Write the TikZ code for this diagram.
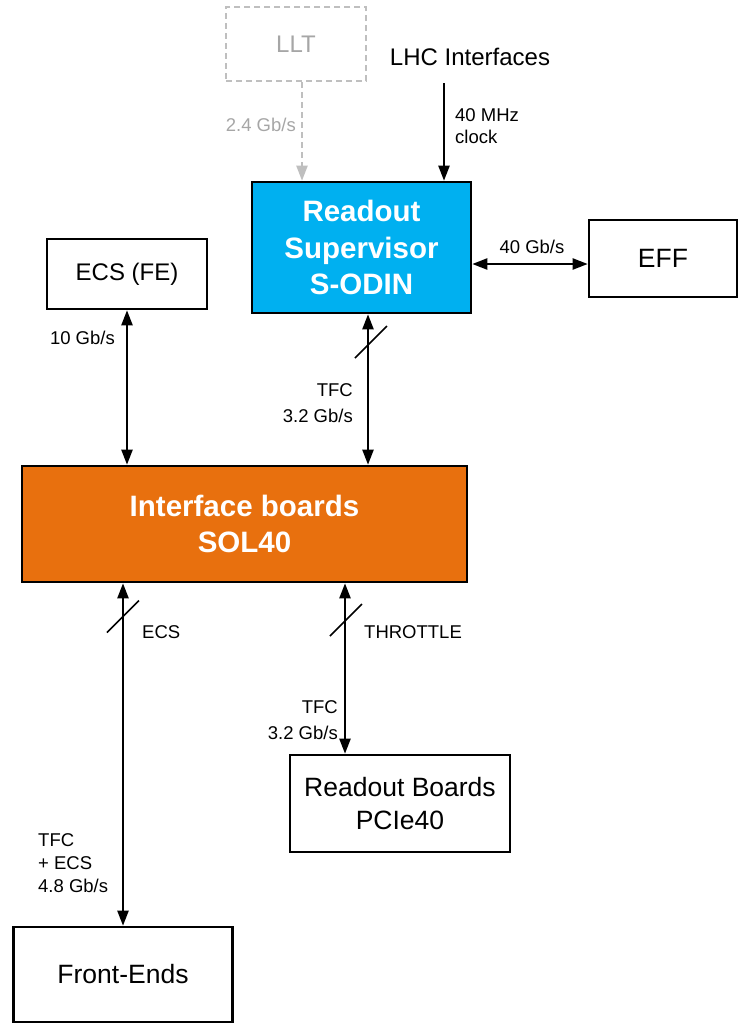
\documentclass[tikz,border=0pt]{standalone}
\usepackage{fontspec}
\setmainfont{Liberation Sans}
\usetikzlibrary{arrows.meta}
\definecolor{odin}{HTML}{00B0F0}
\definecolor{sol}{HTML}{E8700E}
\definecolor{lltgray}{HTML}{BFBFBF}
\definecolor{llttext}{HTML}{A6A6A6}
\begin{document}
\begin{tikzpicture}[x=1pt,y=-1pt,
  box/.style={draw=black, line width=2.6pt, fill=white, inner sep=0pt, align=center, font=\fontsize{24}{29}\selectfont},
  bigbox/.style={box, font=\fontsize{29.5}{36.5}\selectfont\bfseries, text=white},
  arr/.style={line width=2.2pt, -{Triangle[length=15pt,width=11pt]}},
  darr/.style={line width=2.2pt, {Triangle[length=15pt,width=11pt]}-{Triangle[length=15pt,width=11pt]}},
  lbl/.style={font=\fontsize{18.5}{24}\selectfont, inner sep=0pt},
  slash/.style={line width=1.5pt}]
\useasboundingbox (0,0) rectangle (739,1023);

% boxes
\node[box, draw=lltgray, dash pattern=on 6pt off 4pt, text=llttext, minimum width=140, minimum height=74] (llt) at (296,44) {LLT};
\node[font=\fontsize{24}{29}\selectfont, inner sep=0pt] (lhc) at (470,57) {LHC Interfaces};
\node[bigbox, fill=odin, minimum width=219, minimum height=131] (sodin) at (361.5,247.5) {Readout\\Supervisor\\S-ODIN};
\node[box, font=\fontsize{26.5}{33}\selectfont, minimum width=148, minimum height=77] (eff) at (663,258.5) {EFF};
\node[box, minimum width=160, minimum height=70] (ecs) at (127,274) {ECS (FE)};
\node[bigbox, fill=sol, minimum width=445, minimum height=116] (sol) at (244.5,524) {Interface boards\\SOL40};
\node[box, font=\fontsize{26.5}{33}\selectfont, minimum width=220, minimum height=97] (rb) at (400,803.5) {Readout Boards\\PCIe40};
\node[box, font=\fontsize{26.5}{33}\selectfont, minimum width=219, minimum height=95] (fe) at (123,974.5) {Front-Ends};

% coordinates
\coordinate (lhcsrc) at (444,83);
\coordinate (lltout) at ([xshift=6pt]llt.south);
\coordinate (effin) at ([yshift=-5.5pt]eff.west);
\coordinate (odinout) at ([xshift=6.5pt]sodin.south);
\coordinate (rbin) at ([xshift=-55pt]rb.north);
\coordinate (s1) at (371,342);
\coordinate (s2) at (123,616.5);
\coordinate (s3) at (346,620);

% connectors
\draw[arr] (lhcsrc) -- (lhcsrc |- sodin.north);
\draw[arr, lltgray, dash pattern=on 6pt off 4pt] (lltout) -- (lltout |- sodin.north);
\draw[darr] (sodin.east |- effin) -- (effin);
\draw[darr] (ecs.south) -- (ecs.south |- sol.north);
\draw[darr] (odinout) -- (odinout |- sol.north);
\draw[darr] (sol.south -| fe.north) -- (fe.north);
\draw[darr] (sol.south -| rbin) -- (rbin);

% slashes
\draw[slash] (s1) +(-16,16) -- +(16,-16);
\draw[slash] (s2) +(-16,16) -- +(16,-16);
\draw[slash] (s3) +(-16,16) -- +(16,-16);

% labels
\node[lbl, text=llttext, anchor=east] (l24) at (296,125) {2.4 Gb/s};
\node[lbl, anchor=west, align=left, font=\fontsize{18.5}{22.5}\selectfont] (l40mhz) at (455,126) {40 MHz\\clock};
\node[lbl] (l40g) at (532,247) {40 Gb/s};
\node[lbl, anchor=east] (l10) at (115,338) {10 Gb/s};
\node[lbl, anchor=east, align=right, font=\fontsize{18.5}{26}\selectfont] (ltfca) at (353,403) {TFC\\3.2 Gb/s};
\node[lbl, anchor=west] (lecs) at (142,632) {ECS};
\node[lbl, anchor=west] (lthr) at (364,632) {THROTTLE};
\node[lbl, anchor=east, align=right, font=\fontsize{18.5}{26}\selectfont] (ltfcb) at (338,720) {TFC\\3.2 Gb/s};
\node[lbl, anchor=west, align=left, font=\fontsize{18.5}{23}\selectfont] (ltfcc) at (38,863) {TFC\\+ ECS\\4.8 Gb/s};
\end{tikzpicture}
\end{document}
